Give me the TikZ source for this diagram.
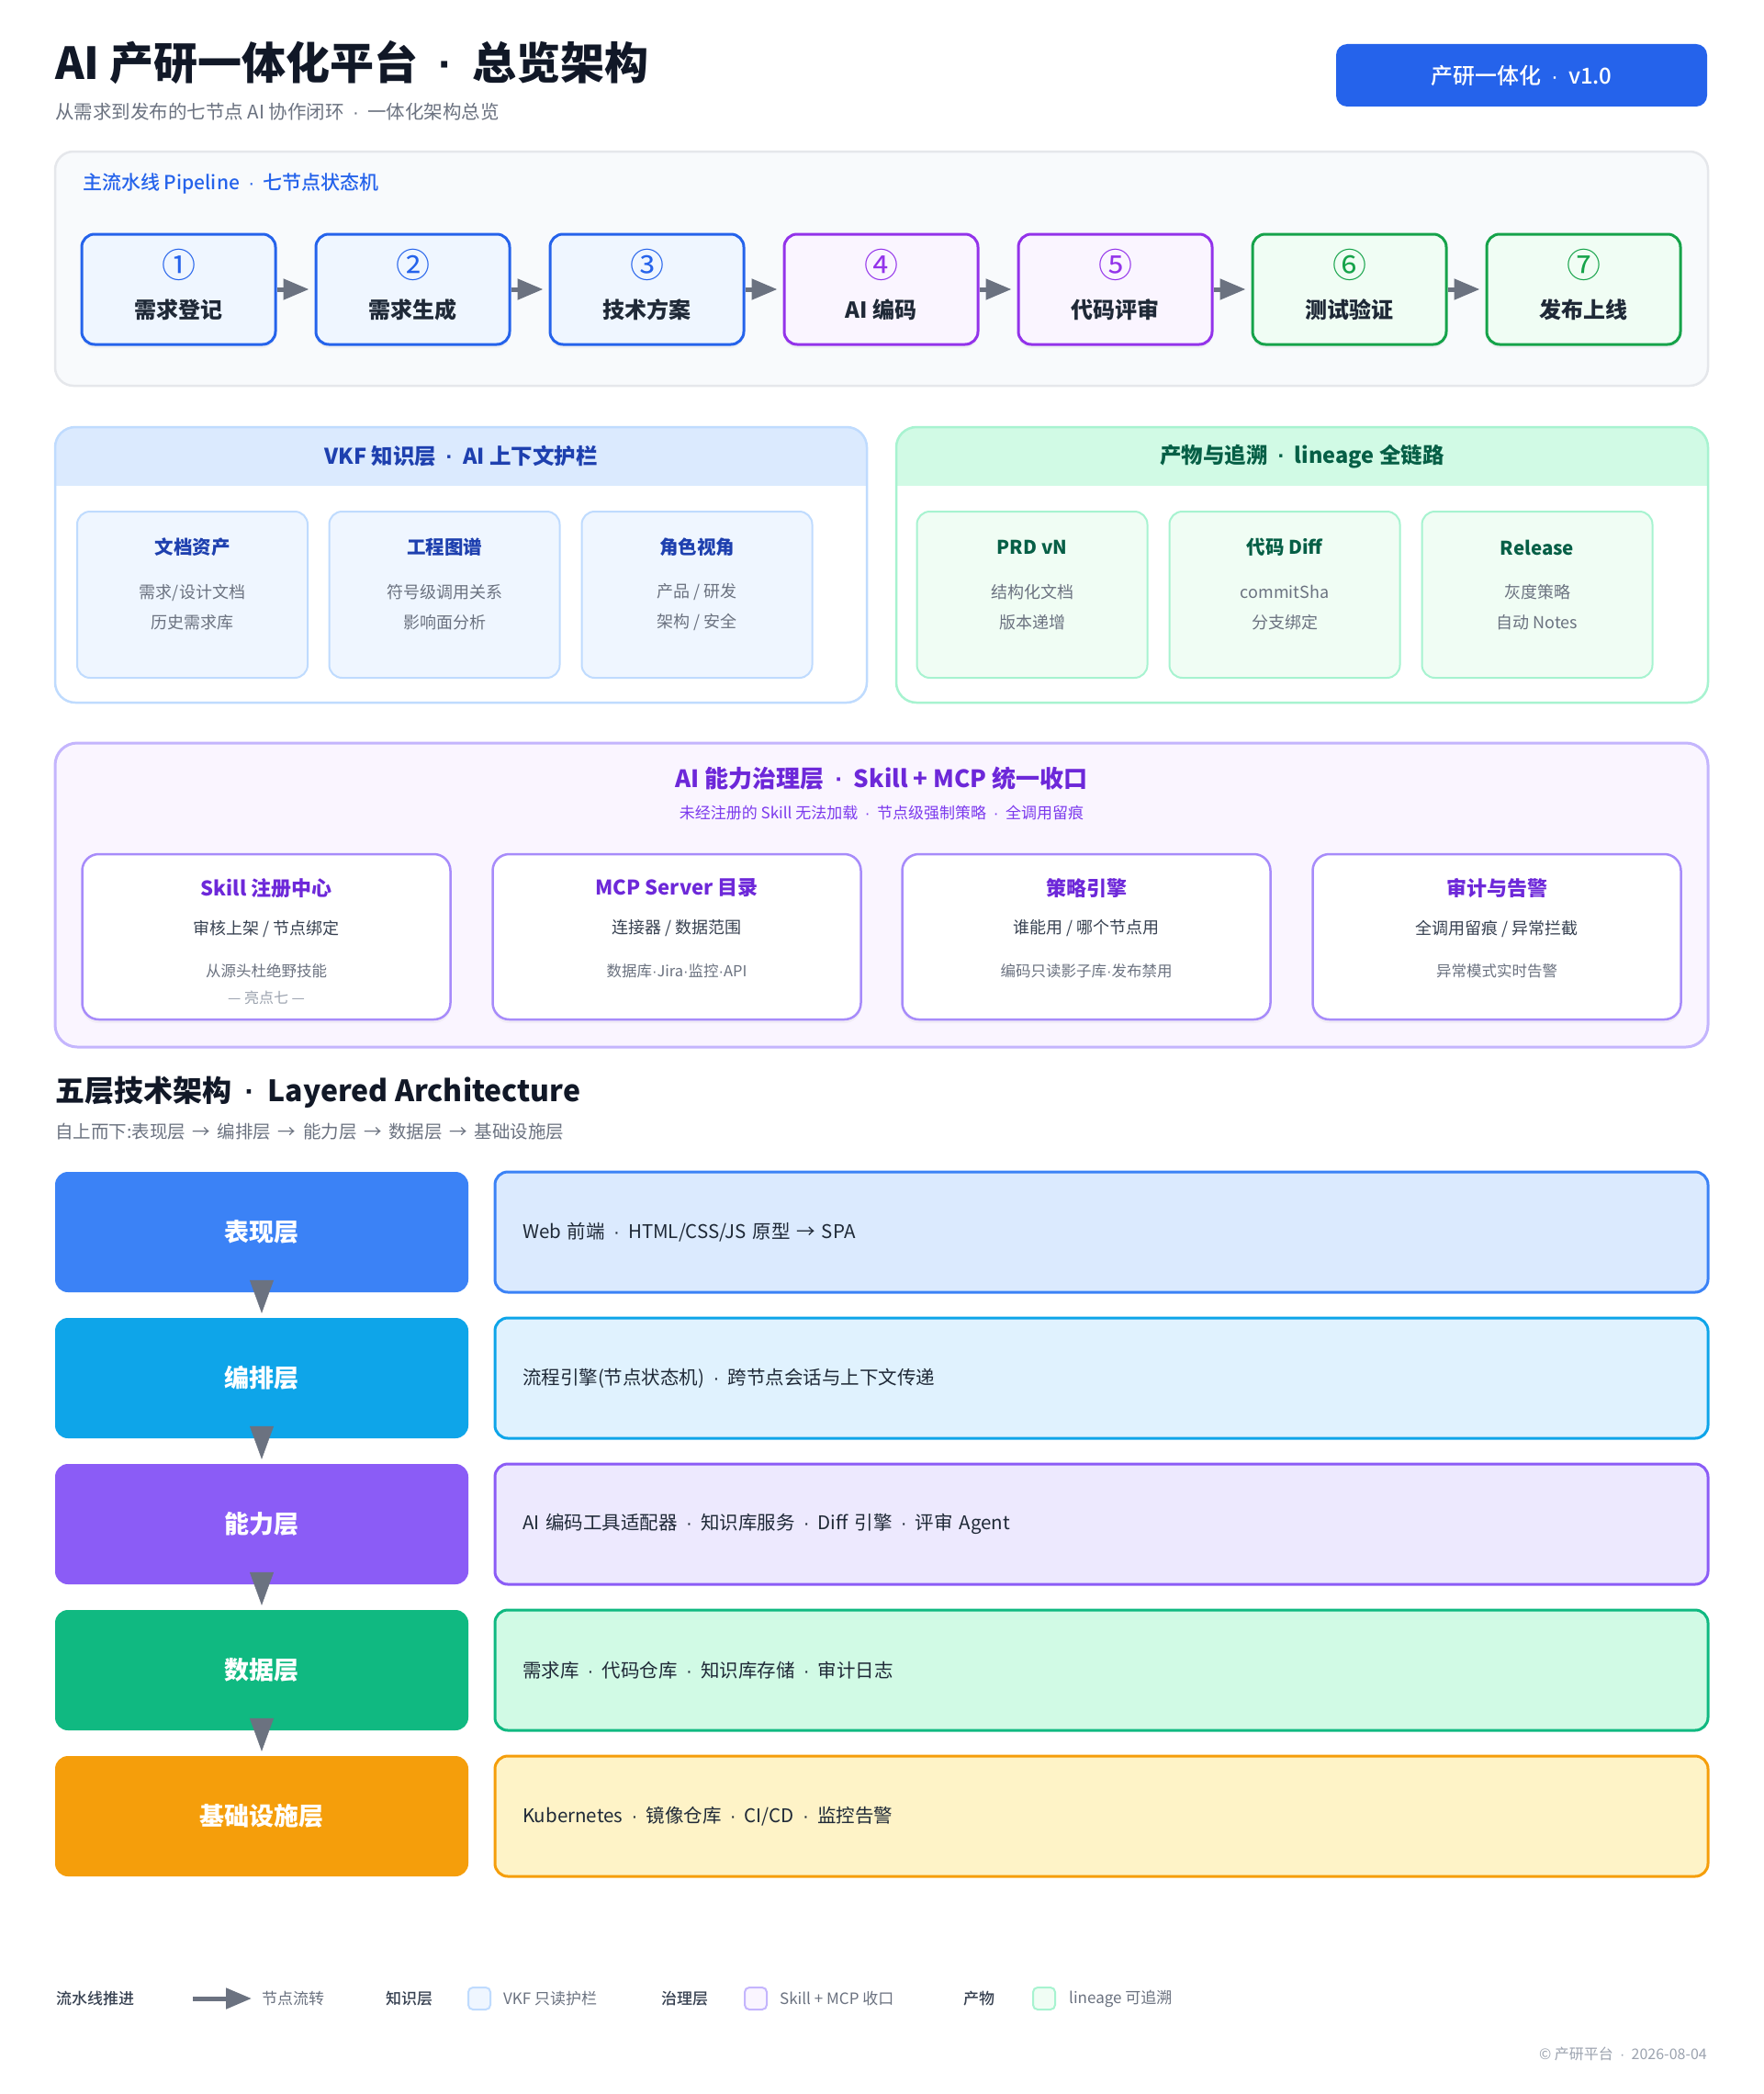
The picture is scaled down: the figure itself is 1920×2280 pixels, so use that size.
\documentclass[tikz,border=0pt]{standalone}
\usepackage{fontspec}
\setmainfont{Noto Sans CJK SC}
\newfontfamily\medfont{Noto Sans CJK SC Medium}
\newfontfamily\latinfont{Liberation Sans}
\usetikzlibrary{arrows.meta,shadows}
\definecolor{ink}{HTML}{111827}
\definecolor{txtdark}{HTML}{1F2937}
\definecolor{txtmid}{HTML}{374151}
\definecolor{muted}{HTML}{6B7280}
\definecolor{faint}{HTML}{9CA3AF}
\definecolor{brand}{HTML}{2563EB}
\definecolor{arrowgray}{HTML}{6B7280}
\definecolor{panelbg}{HTML}{F8FAFC}
\definecolor{panelline}{HTML}{E5E7EB}
\definecolor{stblue}{HTML}{2563EB}\definecolor{stbluebg}{HTML}{EFF6FF}
\definecolor{stpurple}{HTML}{9333EA}\definecolor{stpurplebg}{HTML}{FAF5FF}
\definecolor{stgreen}{HTML}{16A34A}\definecolor{stgreenbg}{HTML}{F0FDF4}
\definecolor{vkfline}{HTML}{BFDBFE}\definecolor{vkfhead}{HTML}{DBEAFE}
\definecolor{vkftext}{HTML}{1E40AF}\definecolor{vkfcard}{HTML}{EFF6FF}
\definecolor{linline}{HTML}{A7F3D0}\definecolor{linhead}{HTML}{D1FAE5}
\definecolor{lintext}{HTML}{065F46}\definecolor{lincard}{HTML}{F0FDF4}
\definecolor{govline}{HTML}{C4B5FD}\definecolor{govbg}{HTML}{FAF5FF}
\definecolor{govcardline}{HTML}{A78BFA}\definecolor{govtext}{HTML}{6D28D9}
\definecolor{govsub}{HTML}{7C3AED}\definecolor{govcard}{HTML}{FAF5FF}
\definecolor{lyone}{HTML}{3B82F6}\definecolor{lyonebg}{HTML}{DBEAFE}
\definecolor{lytwo}{HTML}{0EA5E9}\definecolor{lytwobg}{HTML}{E0F2FE}
\definecolor{lythree}{HTML}{8B5CF6}\definecolor{lythreebg}{HTML}{EDE9FE}
\definecolor{lyfour}{HTML}{10B981}\definecolor{lyfourbg}{HTML}{D1FAE5}
\definecolor{lyfive}{HTML}{F59E0B}\definecolor{lyfivebg}{HTML}{FEF3C7}
\newcommand{\fsz}[1]{\fontsize{#1}{#1}\selectfont}
\newcommand{\sdot}{\hspace{0.45em}{\latinfont·}\hspace{0.45em}}
\newcommand{\ndot}{{\latinfont·}}
\tikzset{
  softshadow/.style={drop shadow={opacity=0.07,shadow xshift=0pt,shadow yshift=-4pt}},
  stage/.style={draw=#1,fill=#1bg,line width=3pt,rounded corners=14pt,minimum width=211pt,minimum height=120pt,softshadow},
  stagenum/.style={inner sep=0pt,text=#1,font=\fsz{37}},
  stagename/.style={inner sep=0pt,text=txtdark,font=\fsz{24}\bfseries},
  flow/.style={arrowgray,line width=5pt,-{Triangle[length=28pt,width=22pt]},shorten >=6pt},
  layerflow/.style={arrowgray,line width=0.5pt,-{Triangle[length=36pt,width=26pt]},shorten <=-14pt,shorten >=5pt},
  knowbox/.style={draw=vkfline,fill=vkfcard,line width=2pt,rounded corners=14pt,minimum width=251pt,minimum height=181pt},
  linbox/.style={draw=linline,fill=lincard,line width=2pt,rounded corners=14pt,minimum width=251pt,minimum height=181pt},
  cardhead/.style={inner sep=0pt,text=#1,font=\fsz{20.5}\bfseries},
  cardbody/.style={inner sep=0pt,align=center,text=muted,font=\fontsize{18}{33}\selectfont},
  govbox/.style={draw=govcardline,fill=white,line width=2.5pt,rounded corners=18pt,minimum width=401pt,minimum height=180pt,softshadow},
  govhead/.style={inner sep=0pt,text=govtext,font=\fsz{22}\bfseries},
  govmain/.style={inner sep=0pt,text=txtmid,font=\fsz{18}},
  govnote/.style={inner sep=0pt,text=muted,font=\fsz{16.5}},
  layer/.style={fill=#1,text=white,font=\fsz{27}\bfseries,rounded corners=14pt,minimum width=450pt,minimum height=131pt},
  desc/.style={draw=#1,fill=#1bg,line width=3pt,rounded corners=14pt,text width=1261pt,inner xsep=30pt,align=left,minimum height=131pt,text=txtdark,font=\fsz{20.5}},
  legkey/.style={anchor=west,inner sep=0pt,text=txtmid,font=\fsz{17}\medfont},
  legtext/.style={anchor=west,inner sep=0pt,text=muted,font=\fsz{17}},
  swatch/.style={draw=#1line,fill=#1card,line width=2pt,rounded corners=5pt,minimum size=24pt,inner sep=0pt}
}
\begin{document}
\begin{tikzpicture}[x=1pt,y=-1pt]
\useasboundingbox (0,0) rectangle (1920,2280);
\fill[white] (0,0) rectangle (1920,2280);

\node (title) at (60,68)[anchor=west,inner sep=0pt,text=ink,font=\fsz{48}\bfseries] {AI 产研一体化平台\sdot 总览架构};
\node (subtitle) at (60,122)[anchor=west,inner sep=0pt,text=muted,font=\fsz{20.5}] {从需求到发布的七节点 AI 协作闭环\sdot 一体化架构总览};
\node (badge) at (1657,82)[fill=brand,rounded corners=12pt,minimum width=404pt,minimum height=68pt,text=white,font=\fsz{24}\medfont] {产研一体化\sdot v1.0};

% pipeline
\draw[fill=panelbg,draw=panelline,line width=2.5pt,rounded corners=20pt] (60,165) rectangle (1860,420);
\node (pipetitle) at (90,200)[anchor=west,inner sep=0pt,text=brand,font=\fsz{21}\medfont] {主流水线 Pipeline\sdot 七节点状态机};
\node (P1) at (194.5,315)[stage=stblue] {};
\node (P2) at (449.5,315)[stage=stblue] {};
\node (P3) at (704.5,315)[stage=stblue] {};
\node (P4) at (959.5,315)[stage=stpurple] {};
\node (P5) at (1214.5,315)[stage=stpurple] {};
\node (P6) at (1469.5,315)[stage=stgreen] {};
\node (P7) at (1724.5,315)[stage=stgreen] {};
\node (P1n) at (194.5,288)[stagenum=stblue] {①};
\node (P2n) at (449.5,288)[stagenum=stblue] {②};
\node (P3n) at (704.5,288)[stagenum=stblue] {③};
\node (P4n) at (959.5,288)[stagenum=stpurple] {④};
\node (P5n) at (1214.5,288)[stagenum=stpurple] {⑤};
\node (P6n) at (1469.5,288)[stagenum=stgreen] {⑥};
\node (P7n) at (1724.5,288)[stagenum=stgreen] {⑦};
\node (P1t) at (194.5,337)[stagename] {需求登记};
\node (P2t) at (449.5,337)[stagename] {需求生成};
\node (P3t) at (704.5,337)[stagename] {技术方案};
\node (P4t) at (959.5,337)[stagename] {AI 编码};
\node (P5t) at (1214.5,337)[stagename] {代码评审};
\node (P6t) at (1469.5,337)[stagename] {测试验证};
\node (P7t) at (1724.5,337)[stagename] {发布上线};
\draw[flow] (P1) -- (P2);
\draw[flow] (P2) -- (P3);
\draw[flow] (P3) -- (P4);
\draw[flow] (P4) -- (P5);
\draw[flow] (P5) -- (P6);
\draw[flow] (P6) -- (P7);

% knowledge layer
\fill[white,rounded corners=22pt] (60,465) rectangle (944,765);
\begin{scope}
\clip (50,455) rectangle (954,528);
\fill[vkfhead,rounded corners=22pt] (60,465) rectangle (944,765);
\end{scope}
\draw[vkfline,line width=2.5pt,rounded corners=22pt] (60,465) rectangle (944,765);
\node (vkftitle) at (502,497)[text=vkftext,font=\fsz{23.5}\bfseries] {VKF 知识层\sdot AI 上下文护栏};
\node (V1) at (209.5,647.5)[knowbox] {};
\node (V2) at (484,647.5)[knowbox] {};
\node (V3) at (759,647.5)[knowbox] {};
\node (V1h) at (209.5,596)[cardhead=vkftext] {文档资产};
\node (V2h) at (484,596)[cardhead=vkftext] {工程图谱};
\node (V3h) at (759,596)[cardhead=vkftext] {角色视角};
\node (V1b) at (209.5,661.5)[cardbody] {需求/设计文档\\历史需求库};
\node (V2b) at (484,661.5)[cardbody] {符号级调用关系\\影响面分析};
\node (V3b) at (759,661.5)[cardbody] {产品 / 研发\\架构 / 安全};

% lineage
\fill[white,rounded corners=22pt] (976,465) rectangle (1860,765);
\begin{scope}
\clip (966,455) rectangle (1870,528);
\fill[linhead,rounded corners=22pt] (976,465) rectangle (1860,765);
\end{scope}
\draw[linline,line width=2.5pt,rounded corners=22pt] (976,465) rectangle (1860,765);
\node (lintitle) at (1418,497)[text=lintext,font=\fsz{23.5}\bfseries] {产物与追溯\sdot lineage 全链路};
\node (A1) at (1124,647.5)[linbox] {};
\node (A2) at (1399,647.5)[linbox] {};
\node (A3) at (1674,647.5)[linbox] {};
\node (A1h) at (1124,596)[cardhead=lintext] {PRD vN};
\node (A2h) at (1399,596)[cardhead=lintext] {代码 Diff};
\node (A3h) at (1674,596)[cardhead=lintext] {Release};
\node (A1b) at (1124,661.5)[cardbody] {结构化文档\\版本递增};
\node (A2b) at (1399,661.5)[cardbody] {commitSha\\分支绑定};
\node (A3b) at (1674,661.5)[cardbody] {灰度策略\\自动 Notes};

% governance
\draw[fill=govbg,draw=govline,line width=3pt,rounded corners=24pt] (60,809) rectangle (1860,1140);
\node (govtitle) at (960,848)[text=govtext,font=\fsz{26}\bfseries] {AI 能力治理层\sdot Skill + MCP 统一收口};
\node (govsubt) at (960,885)[text=govsub,font=\fsz{17}] {未经注册的 Skill 无法加载\sdot 节点级强制策略\sdot 全调用留痕};
\node (G1) at (290,1020)[govbox] {};
\node (G2) at (737,1020)[govbox] {};
\node (G3) at (1183,1020)[govbox] {};
\node (G4) at (1630,1020)[govbox] {};
\node (G1h) at (290,967)[govhead] {Skill 注册中心};
\node (G2h) at (737,967)[govhead] {MCP Server 目录};
\node (G3h) at (1183,967)[govhead] {策略引擎};
\node (G4h) at (1630,967)[govhead] {审计与告警};
\node (G1m) at (290,1011)[govmain] {审核上架 / 节点绑定};
\node (G2m) at (737,1011)[govmain] {连接器 / 数据范围};
\node (G3m) at (1183,1011)[govmain] {谁能用 / 哪个节点用};
\node (G4m) at (1630,1011)[govmain] {全调用留痕 / 异常拦截};
\node (G1s) at (290,1057)[govnote] {从源头杜绝野技能};
\node (G2s) at (737,1057)[govnote] {数据库\ndot Jira\ndot 监控\ndot API};
\node (G3s) at (1183,1057)[govnote] {编码只读影子库\ndot 发布禁用};
\node (G4s) at (1630,1057)[govnote] {异常模式实时告警};
\node (G1x) at (290,1086)[inner sep=0pt,text=faint,font=\fsz{16}] {— 亮点七 —};

% five layers
\node (heading) at (60,1189)[anchor=west,inner sep=0pt,text=ink,font=\fsz{32}\bfseries] {五层技术架构\sdot Layered Architecture};
\node (subheading) at (60,1232)[anchor=west,inner sep=0pt,text=muted,font=\fsz{19.5}] {自上而下:表现层 \,→\, 编排层 \,→\, 能力层 \,→\, 数据层 \,→\, 基础设施层};
\node (L1) at (285,1341.5)[layer=lyone] {表现层};
\node (L2) at (285,1500.5)[layer=lytwo] {编排层};
\node (L3) at (285,1659.5)[layer=lythree] {能力层};
\node (L4) at (285,1818.5)[layer=lyfour] {数据层};
\node (L5) at (285,1977.5)[layer=lyfive] {基础设施层};
\node (D1) at (1199.5,1341.5)[desc=lyone] {Web 前端\sdot HTML/CSS/JS 原型 → SPA};
\node (D2) at (1199.5,1500.5)[desc=lytwo] {流程引擎(节点状态机)\sdot 跨节点会话与上下文传递};
\node (D3) at (1199.5,1659.5)[desc=lythree] {AI 编码工具适配器\sdot 知识库服务\sdot Diff 引擎\sdot 评审 Agent};
\node (D4) at (1199.5,1818.5)[desc=lyfour] {需求库\sdot 代码仓库\sdot 知识库存储\sdot 审计日志};
\node (D5) at (1199.5,1977.5)[desc=lyfive] {Kubernetes\sdot 镜像仓库\sdot CI/CD\sdot 监控告警};
\draw[layerflow] (L1) -- (L2);
\draw[layerflow] (L2) -- (L3);
\draw[layerflow] (L3) -- (L4);
\draw[layerflow] (L4) -- (L5);

% legend
\node (k1) at (61,2176)[legkey] {流水线推进};
\coordinate (arrA) at (210,2176);
\coordinate (arrB) at (280,2176);
\draw[flow] (arrA) -- (arrB);
\node (t1) at (285,2176)[legtext] {节点流转};
\node (k2) at (420,2176)[legkey] {知识层};
\node (s2) at (522,2176)[swatch=vkf] {};
\node (t2) at (548,2176)[legtext] {VKF 只读护栏};
\node (k3) at (720,2176)[legkey] {治理层};
\node (s3) at (823,2176)[swatch=gov] {};
\node (t3) at (849,2176)[legtext] {Skill + MCP 收口};
\node (k4) at (1049,2176)[legkey] {产物};
\node (s4) at (1137,2176)[swatch=lin] {};
\node (t4) at (1164,2176)[legtext] {lineage 可追溯};
\node (footer) at (1859,2236)[anchor=east,inner sep=0pt,text=faint,font=\fsz{16}] {© 产研平台\sdot 2026-08-04};
\end{tikzpicture}
\end{document}
